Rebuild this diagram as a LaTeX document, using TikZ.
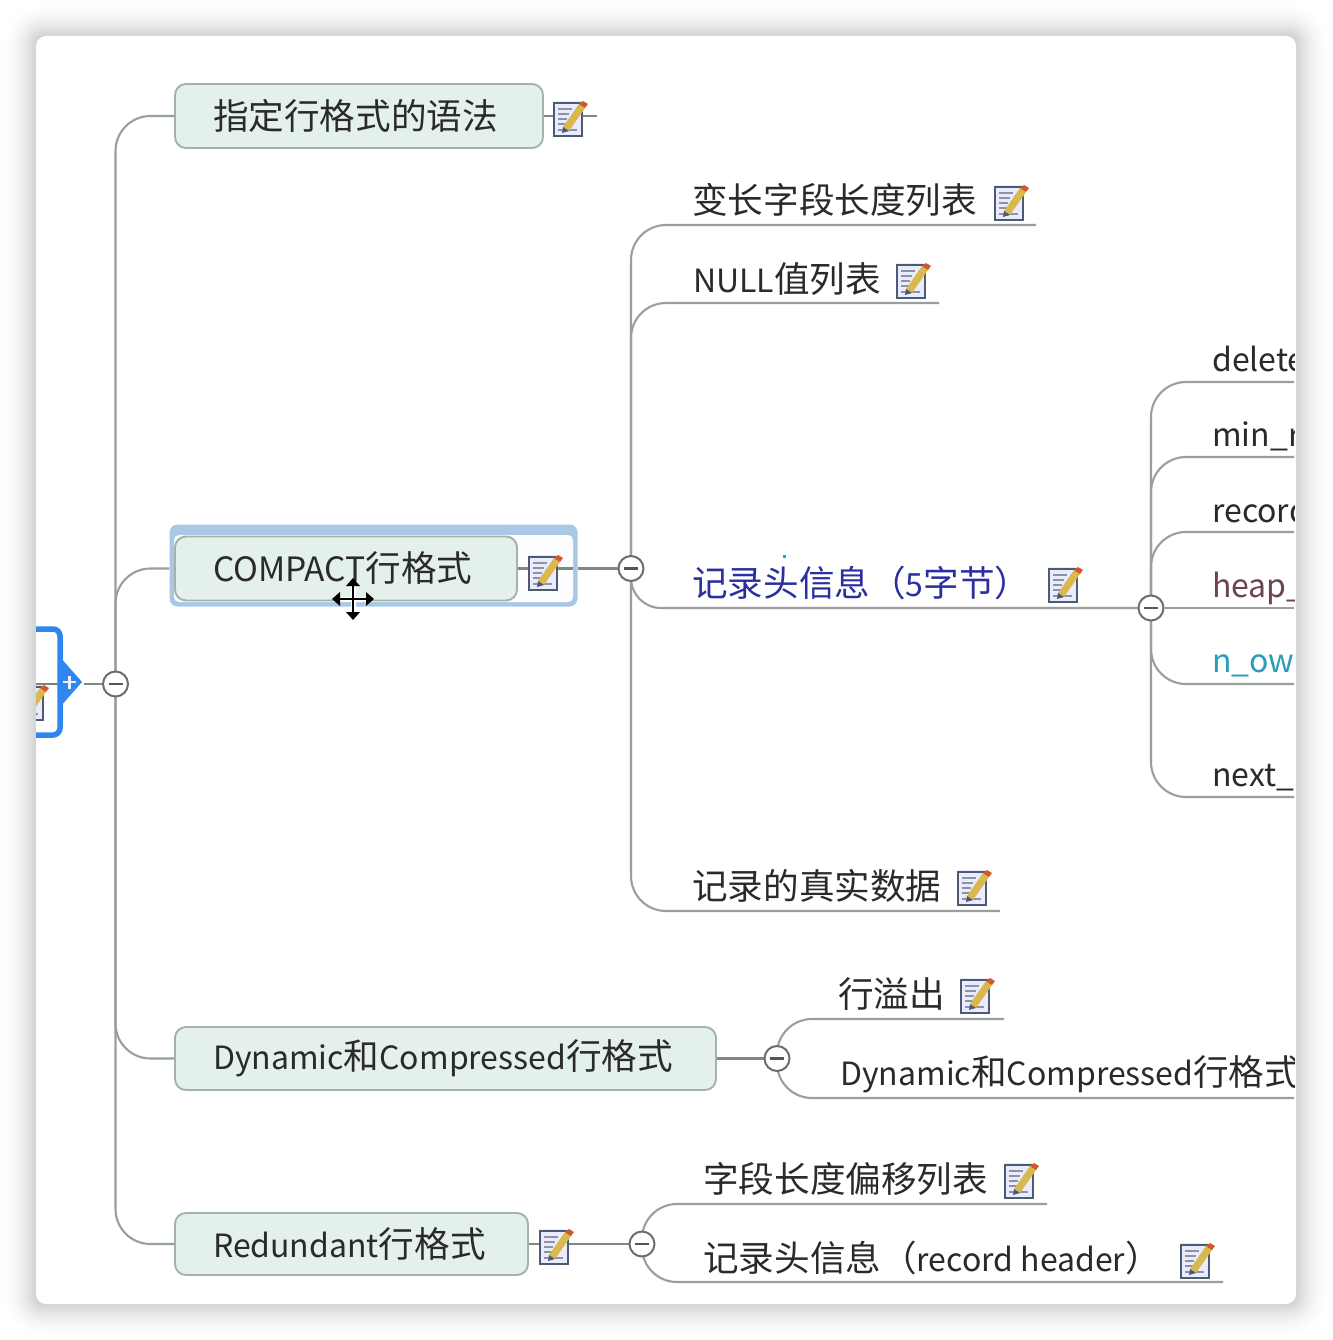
\documentclass[tikz,border=0pt]{standalone}
\usepackage{fontspec}
\setmainfont{Noto Sans CJK SC}
\newcommand{\cjtxt}[1]{{\fontsize{35.6}{40}\selectfont #1}}
\definecolor{conn}{HTML}{989F9C}
\definecolor{inkc}{HTML}{2A2A2A}
\definecolor{boxfill}{HTML}{E4F1EA}
\definecolor{boxline}{HTML}{A3B3AB}
\definecolor{selc}{HTML}{A9C8E6}
\definecolor{rootblue}{HTML}{2F86EE}
\definecolor{navyt}{HTML}{2A2FA0}
\definecolor{heapc}{HTML}{6B4450}
\definecolor{ownc}{HTML}{2B9DB8}
\definecolor{iconline}{HTML}{4E5A72}
\definecolor{pencilc}{HTML}{D9B84C}
\pgfdeclarelayer{under}
\pgfsetlayers{under,main}
\tikzset{
  x=1pt,y=-1pt,
  connline/.style={draw=conn,line width=2.1pt,rounded corners=35pt},
  stemline/.style={draw=conn!85!black,line width=2.1pt},
  topicbox/.style={draw=boxline,fill=boxfill,line width=1.9pt,rounded corners=11pt,
    inner xsep=38pt,inner ysep=0pt,align=left,font=\fontsize{32}{38}\selectfont,text=inkc},
  leaf/.style={anchor=west,inner sep=0pt,yshift=-3.5pt,text height=27pt,text depth=9pt,font=\fontsize{32}{38}\selectfont,text=inkc},
  toggle/.style={circle,draw=conn!70!black,fill=white,line width=2pt,minimum size=25pt,inner sep=0pt,
    path picture={\draw[inkc!80,line width=2.6pt] ([xshift=-7pt]path picture bounding box.center) -- ([xshift=7pt]path picture bounding box.center);}},
  noteicon/.pic={
    \fill[white!92!blue] (0,0) rectangle (27,34);
    \draw[iconline,line width=2.2pt] (0,2) rectangle (28,35);
    \draw[iconline!65,line width=1.6pt] (4,8) -- (18,8) (4,13) -- (15,13) (4,18) -- (13,18) (4,23) -- (12,23) (4,29) -- (23,29);
    \fill[pencilc] (9,26) -- (25,3) -- (31,7) -- (15,30) -- cycle;
    \fill[brown!70!red] (25,3) -- (29,0) -- (34,3) -- (31,7) -- cycle;
    \fill[iconline] (9,26) -- (8,32) -- (15,30) -- cycle;
  }
}
\begin{document}
\begin{tikzpicture}
\useasboundingbox (0,0) rectangle (1332,1340);

% selection frame
\node[fill=selc,rounded corners=8pt,minimum width=408pt,minimum height=82pt,inner sep=0pt] (sel) at (373.5,565.5) {};
\node[fill=white!96!selc,rounded corners=5pt,minimum width=399pt,minimum height=67pt,inner sep=0pt] (selin) at (373.5,568.5) {};

% topic boxes
\node[topicbox,minimum width=368pt,minimum height=64pt,text width=292pt] (b1) at (359,116) {\mbox{\cjtxt{指定行格式的语法}}};
\node[topicbox,minimum width=342pt,minimum height=64pt,text width=266pt,font=\fontsize{33.5}{38}\selectfont] (b2) at (346,568.5) {\mbox{COMPACT\cjtxt{行格式}}};
\node[topicbox,minimum width=541pt,minimum height=63pt,text width=465pt] (b3) at (445.5,1058.5) {\mbox{Dynamic\cjtxt{和}Compressed\cjtxt{行格式}}};
\node[topicbox,minimum width=353pt,minimum height=62pt,text width=277pt] (b4) at (351.5,1244) {\mbox{Redundant\cjtxt{行格式}}};

% toggles
\node[toggle] (c0) at (115.5,684) {};
\node[toggle] (c2) at (631,568.5) {};
\node[toggle] (c3) at (777,1058.5) {};
\node[toggle] (c4) at (642,1244) {};
\node[toggle] (c5) at (1151,608) {};

% anchors
\coordinate (rootend) at (84,684);
\coordinate (b1end) at (597,116);
\coordinate (selout) at (sel.east |- b2.east);
\coordinate (selinner) at (selin.east |- b2.east);
\coordinate (selleft) at (sel.west |- b2.west);
\coordinate (u1) at (1036,225);
\coordinate (u2) at (939,303);
\coordinate (u3) at (1140,608);
\coordinate (u4) at (1000,911);
\coordinate (u5) at (1004,1019);
\coordinate (u6) at (1294,1098);
\coordinate (u7) at (1047,1204);
\coordinate (u8) at (1223,1282);
\coordinate (r1) at (1294,382);
\coordinate (r2) at (1294,457);
\coordinate (r3) at (1294,532);
\coordinate (r4) at (1294,608);
\coordinate (r5) at (1294,684);
\coordinate (r6) at (1294,797);

\begin{pgfonlayer}{under}
% window shadow
\fill[white] (0,0) rectangle (1332,1340);
\foreach \i in {36,35,...,1}{
  \pgfmathsetmacro{\k}{100-36*(1-\i/36)*(1-\i/36)}
  \fill[rounded corners=\i pt+8pt,fill=white!\k!gray] (36-\i,36-\i) rectangle (1296+\i,1304+\i);
}
\fill[white,rounded corners=10pt] (36,36) rectangle (1296,1304);
% trunk connectors
\draw[connline] (c0.center) |- (b1.west);
\draw[connline] (c0.center) |- (selleft);
\draw[connline] (c0.center) |- (b3.west);
\draw[connline] (c0.center) |- (b4.west);
\draw[stemline] (rootend) -- (c0);
\draw[stemline] (b1.east) -- (b1end);
\draw[stemline] (selout) -- (c2);
\draw[stemline] (b3.east) -- (c3);
\draw[stemline] (b4.east) -- (c4);
% COMPACT children
\draw[connline] (c2.center) |- (u1);
\draw[connline] (c2.center) |- (u2);
\draw[connline,rounded corners=30pt] (c2.center) |- (u3);
\draw[connline] (c2.center) |- (u4);
% Dynamic children
\draw[connline] (c3.center) |- (u5);
\draw[connline] (c3.center) |- (u6);
% Redundant children
\draw[connline] (c4.center) |- (u7);
\draw[connline] (c4.center) |- (u8);
% header children
\draw[stemline,draw=conn] (u3) -- (c5);
\draw[connline] (c5.center) |- (r1);
\draw[connline] (c5.center) |- (r2);
\draw[connline] (c5.center) |- (r3);
\draw[stemline,draw=conn] (c5) -- (r4);
\draw[connline] (c5.center) |- (r5);
\draw[connline] (c5.center) |- (r6);
\end{pgfonlayer}

% stem inside the selection frame
\draw[stemline] (b2.east) -- (selinner);

\begin{scope}
\clip[rounded corners=10pt] (36,36) rectangle (1294,1304);

% leaf texts
\node[leaf] (t1) at (692,201) {\cjtxt{变长字段长度列表}};
\node[leaf] (t2) at (693,280) {NULL\cjtxt{值列表}};
\node[leaf,text=navyt] (t3) at (692,584) {\cjtxt{记录头信息（}5\cjtxt{字节）}};
\node[leaf] (t4) at (692,887) {\cjtxt{记录的真实数据}};
\node[leaf] (t5) at (838,995) {\cjtxt{行溢出}};
\node[leaf] (t6) at (840,1073) {Dynamic\cjtxt{和}Compressed\cjtxt{行格式}};
\node[leaf] (t7) at (703,1180) {\cjtxt{字段长度偏移列表}};
\node[leaf] (t8) at (703,1259) {\cjtxt{记录头信息（}record header\cjtxt{）}};
\node[leaf] (d1) at (1212,359) {delete};
\node[leaf] (d2) at (1212,434) {min\_r};
\node[leaf] (d3) at (1212,510) {record};
\node[leaf,text=heapc] (d4) at (1212,585) {heap\_};
\node[leaf,text=ownc] (d5) at (1212,660) {n\_own};
\node[leaf] (d6) at (1212,774) {next\_};

% note icons
\foreach \px/\py in {554/101,529/555,995/185,897/263,1049/567,958/870,961/978,1005/1163,1181/1243,540/1229}{
  \pic at (\px,\py) {noteicon};
}

% collapsed root topic, cut by the window edge
\draw[stemline,draw=inkc!60] (36,684) -- (60,684);
\pic at (15,685) {noteicon};
\draw[rootblue,line width=5.5pt,rounded corners=7pt] (20,629) -- (60,629) -- (60,735) -- (20,735);
\fill[rootblue] (60,657) -- (82,682) -- (60,707) -- cycle;
\draw[white!90!rootblue,line width=2.8pt] (63,682) -- (76,682) (69.5,675.5) -- (69.5,688.5);

% stray mark and move cursor
\fill[cyan] (783,555) rectangle (786,558);
\draw[white,line width=5pt] (338,599) -- (368,599) (353,584) -- (353,614);
\draw[black,line width=2pt] (338,599) -- (368,599) (353,584) -- (353,614);
\fill[black] (332,599) -- (340,592) -- (340,606) -- cycle
  (374,599) -- (366,592) -- (366,606) -- cycle
  (353,578) -- (346,586) -- (360,586) -- cycle
  (353,620) -- (346,612) -- (360,612) -- cycle;
\end{scope}
\end{tikzpicture}
\end{document}
